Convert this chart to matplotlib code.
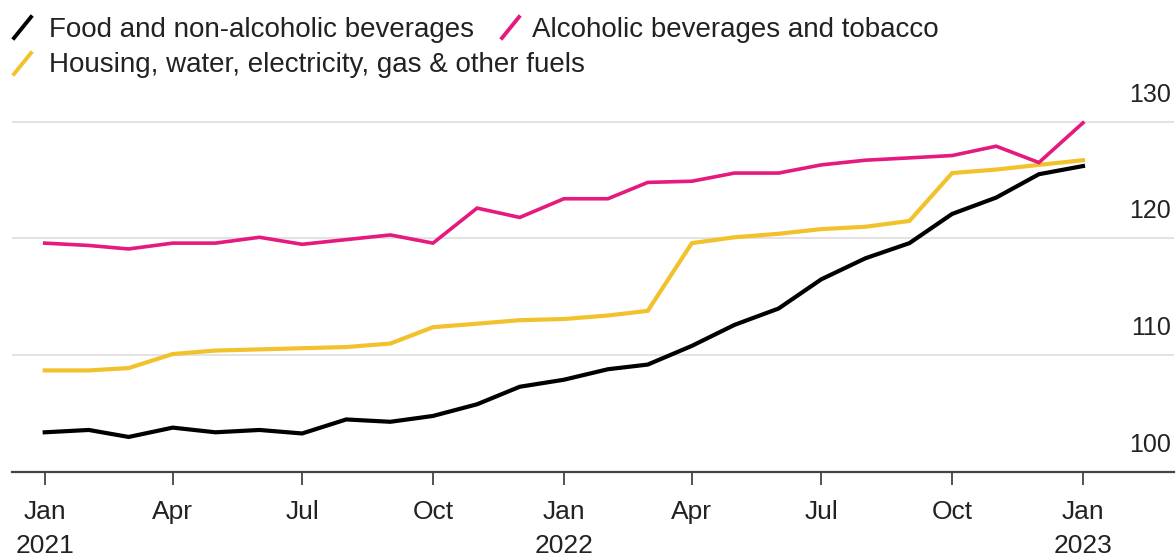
import matplotlib.pyplot as plt
from matplotlib.lines import Line2D
import pandas as pd

months = pd.date_range('2021-01-01', periods=25, freq='MS')

food = [103.4, 103.6, 103.0, 103.8, 103.4, 103.6, 103.3, 104.5, 104.3, 104.8,
        105.8, 107.3, 107.9, 108.8, 109.2, 110.8, 112.6, 114.0, 116.5, 118.3,
        119.6, 122.1, 123.5, 125.5, 126.2]
alcohol = [119.6, 119.4, 119.1, 119.6, 119.6, 120.1, 119.5, 119.9, 120.3, 119.6,
           122.6, 121.8, 123.4, 123.4, 124.8, 124.9, 125.6, 125.6, 126.3, 126.7,
           126.9, 127.1, 127.9, 126.5, 129.9]
housing = [108.7, 108.7, 108.9, 110.1, 110.4, 110.5, 110.6, 110.7, 111.0, 112.4,
           112.7, 113.0, 113.1, 113.4, 113.8, 119.6, 120.1, 120.4, 120.8, 121.0,
           121.5, 125.6, 125.9, 126.3, 126.7]

labels = ['Food and non-alcoholic beverages', 'Alcoholic beverages and tobacco',
          'Housing, water, electricity, gas & other fuels']
colors = ['#000000', '#e5197e', '#f2c22c']

yticks = [100, 110, 120, 130]
xticks = pd.date_range('2021-01-01', '2023-01-01', freq='QS')
xticklabels = ['Jan\n2021', 'Apr', 'Jul', 'Oct', 'Jan\n2022', 'Apr', 'Jul', 'Oct', 'Jan\n2023']

W, H = 1176, 558
fig = plt.figure(figsize=(W / 100, H / 100), dpi=100)
ax = fig.add_axes([12 / W, (H - 472) / H, (1174 - 12) / W, 362 / H])

ax.plot(months, housing, color=colors[2], lw=3.0, solid_joinstyle='miter', zorder=3)
ax.plot(months, alcohol, color=colors[1], lw=2.6, solid_joinstyle='miter', zorder=4)
ax.plot(months, food, color=colors[0], lw=3.0, solid_joinstyle='miter', zorder=2)

ax.set_ylim(100, 131)
ax.set_xlim(pd.Timestamp('2020-12-09'), pd.Timestamp('2023-03-06'))

for s in ['top', 'right', 'left']:
    ax.spines[s].set_visible(False)
ax.spines['bottom'].set_color('#444444')
ax.spines['bottom'].set_linewidth(1.6)

ax.set_yticks(yticks[1:])
ax.yaxis.grid(True, color='#dedede', lw=1.2)
ax.tick_params(axis='y', length=0, labelleft=False)
ax.set_axisbelow(True)

# value labels sit just above their gridlines, on the right
for v in yticks:
    ax.annotate(str(v), xy=(1.0, v), xycoords=('axes fraction', 'data'),
                xytext=(-3, 15), textcoords='offset pixels',
                ha='right', va='bottom', fontsize=18, color='#222222',
                family='Liberation Sans')

ax.set_xticks(xticks)
ax.set_xticklabels(xticklabels, fontsize=19, color='#222222', linespacing=1.55,
                   family='Liberation Sans')
ax.tick_params(axis='x', length=9, width=1.3, color='#444444', pad=11)

# legend drawn by hand: short slashes followed by the series names
def slash(x, y, color):
    fig.add_artist(Line2D([x / W, (x + 17) / W], [(H - y - 11) / H, (H - y + 10) / H],
                          color=color, lw=2.8, transform=fig.transFigure))

def name(x, y, text):
    return fig.text(x / W, (H - y) / H, text, fontsize=20, color='#222222',
                    va='baseline', ha='left', family='Liberation Sans')

slash(14, 27, colors[0])
t = name(49, 37, labels[0])
fig.canvas.draw()
bb = t.get_window_extent()
x2 = bb.x1 + 28
slash(x2, 27, colors[1])
name(x2 + 30, 37, labels[1])
slash(14, 63, colors[2])
name(49, 72, labels[2])

fig.savefig('out.png', dpi=100, facecolor='white')
